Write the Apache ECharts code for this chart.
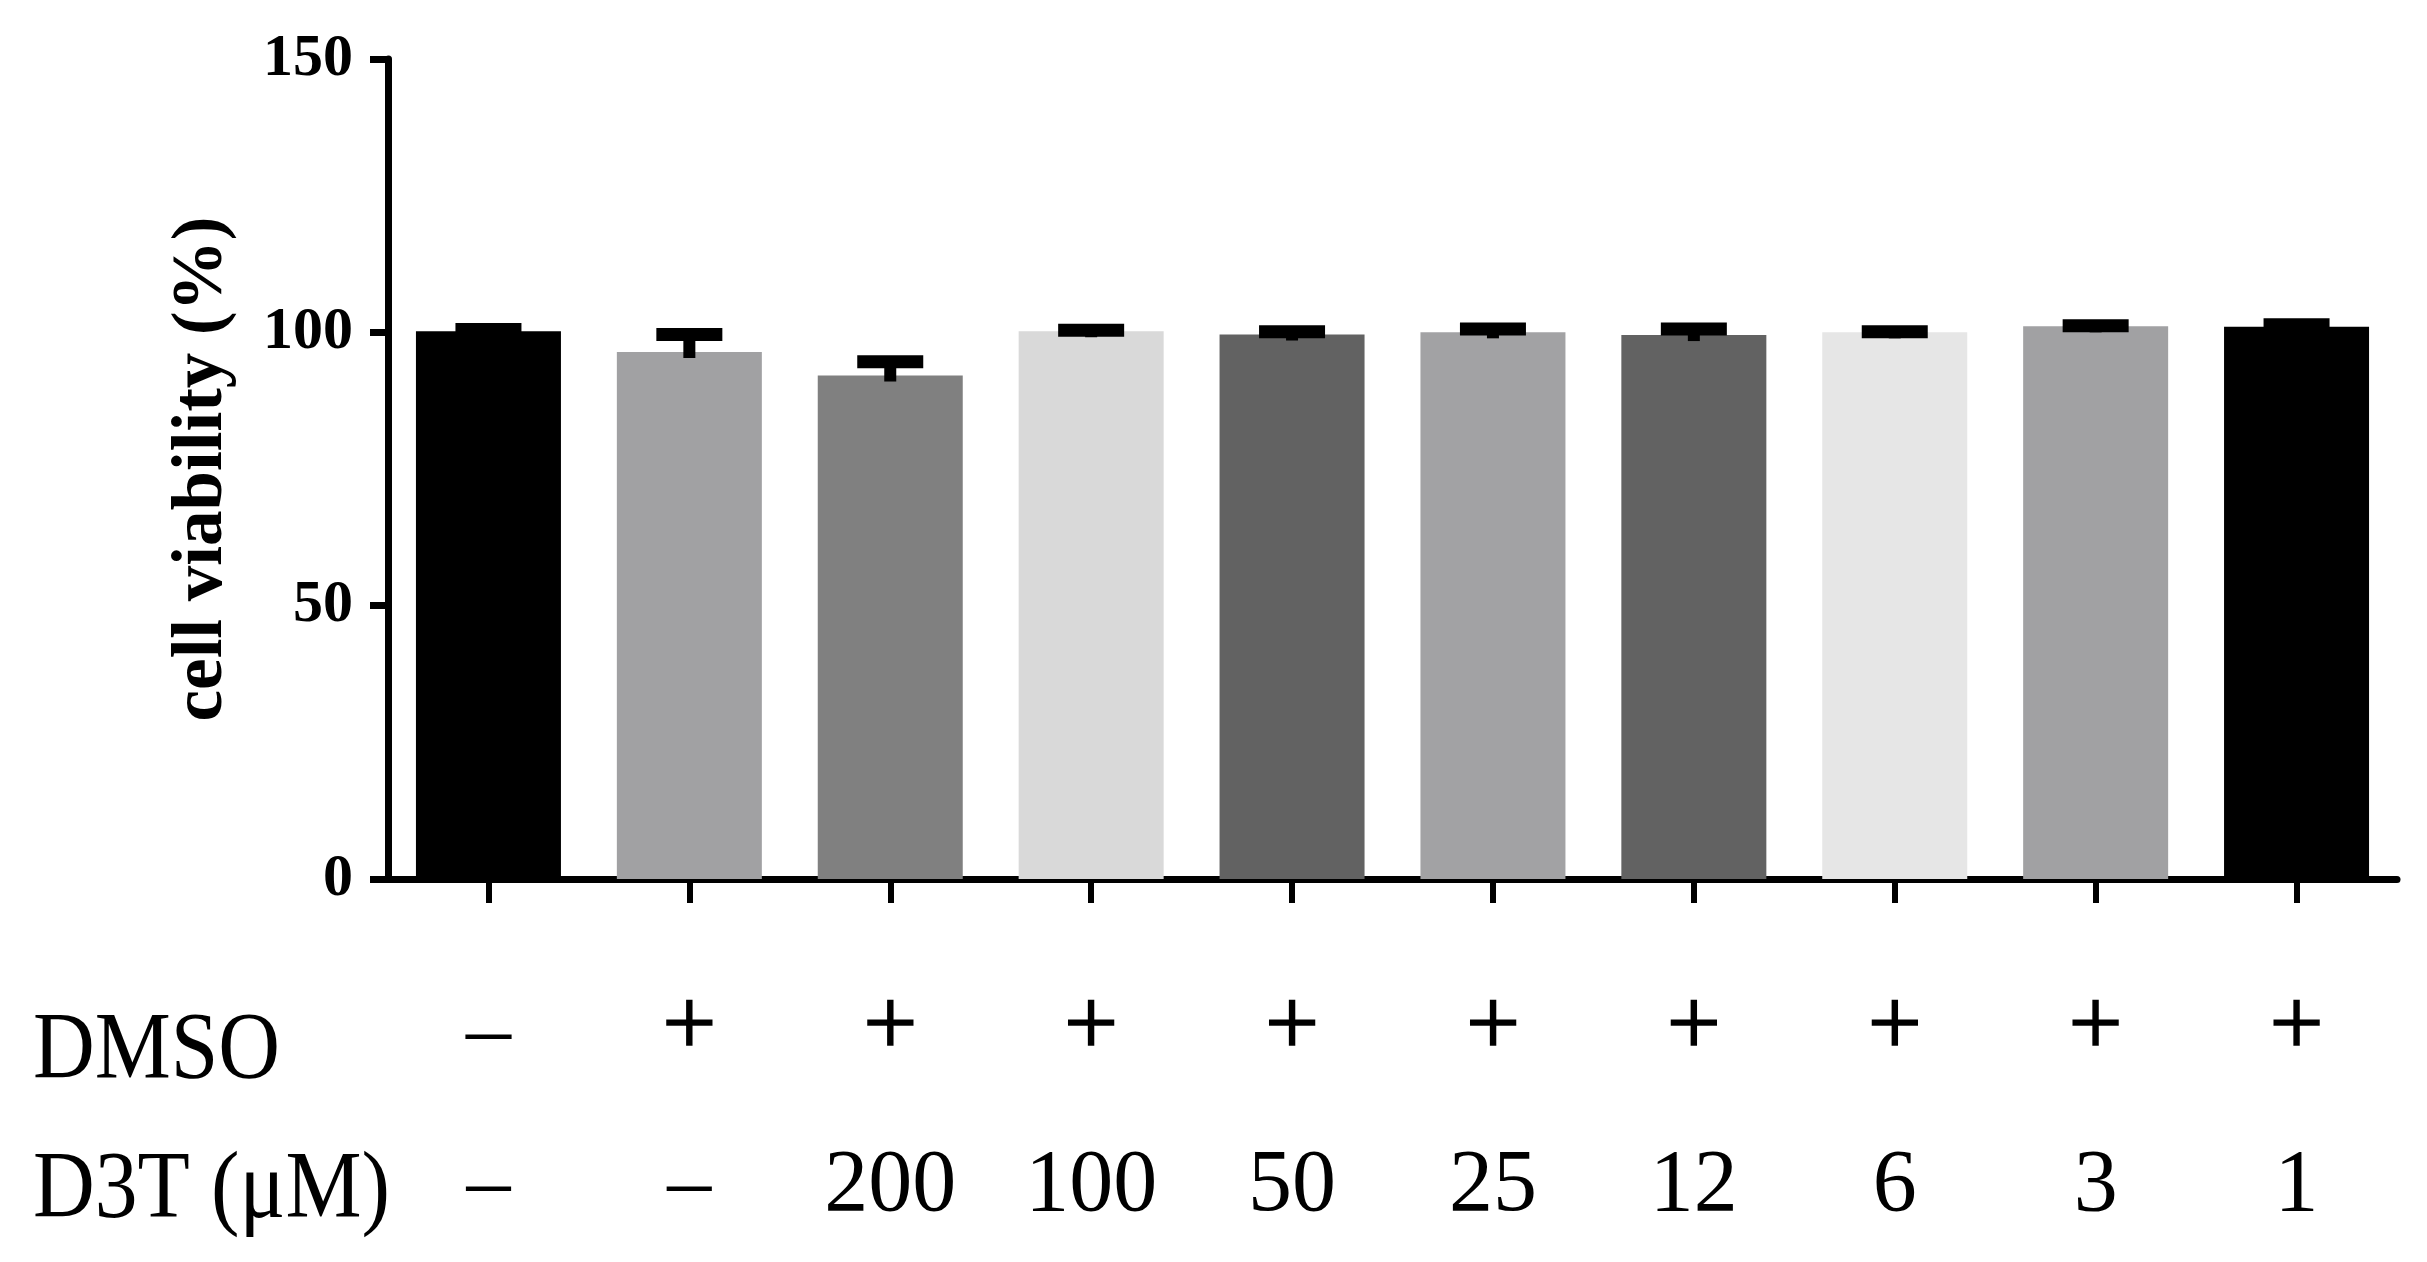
<!DOCTYPE html>
<html><head><meta charset="utf-8">
<script src="https://cdn.jsdelivr.net/npm/echarts/dist/echarts.min.js"></script>
<style>html,body{margin:0;padding:0;background:#fff}#c{width:2427px;height:1262px}</style>
</head><body><div id="c"></div>
<script>
// ---- data ----
const categories = ['control', 'DMSO', '200', '100', '50', '25', '12', '6', '3', '1'];
const dmsoRow = ['–', '+', '+', '+', '+', '+', '+', '+', '+', '+'];
const d3tRow = ['–', '–', '200', '100', '50', '25', '12', '6', '3', '1'];
const viability = [100.2, 96.4, 92.1, 100.2, 99.6, 100.0, 99.5, 100.0, 101.1, 101.0];
const sdValues = [0.3, 3.2, 2.5, 0.2, 0.5, 0.6, 1.1, 0.1, 0.1, 0.4];
const barColors = ['#000000', '#a1a1a3', '#808080', '#d9d9d9', '#626262', '#a2a2a4', '#626262', '#e6e6e6', '#a1a1a3', '#000000'];
const yMin = 0, yMax = 150, yStep = 50;
const yTitle = 'cell viability (%)';
const rowTitles = ['DMSO', 'D3T (μM)'];

const SERIF = '"Liberation Serif", "Times New Roman", serif';
const chart = echarts.init(document.getElementById('c'), null, {renderer: 'canvas'});

const option = {
  backgroundColor: '#fff',
  animation: false,
  grid: {left: 388, right: 30, top: 59, bottom: 383, containLabel: false},
  xAxis: [
    {
      type: 'category', data: categories, gridIndex: 0,
      axisLine: {show: true, lineStyle: {color: '#000', width: 7}},
      axisTick: {show: true, alignWithLabel: true, interval: 0, length: 24, lineStyle: {color: '#000', width: 6}},
      axisLabel: {show: false},
      splitLine: {show: false}
    },
    {
      type: 'category', data: categories, gridIndex: 0, position: 'bottom', offset: 102,
      axisLine: {show: false}, axisTick: {show: false}, splitLine: {show: false},
      axisLabel: {
        show: true, interval: 0, margin: 0,
        formatter: function (v, i) { return dmsoRow[i] === '+' ? '{p|+}' : '{d|' + dmsoRow[i] + '}'; },
        rich: {
          p: {fontFamily: SERIF, fontSize: 96, lineHeight: 96, color: '#000', textBorderColor: '#000', textBorderWidth: 1.6},
          d: {fontFamily: SERIF, fontSize: 90, lineHeight: 96, color: '#000', padding: [11, 0, 0, 0]}
        }
      }
    },
    {
      type: 'category', data: categories, gridIndex: 0, position: 'bottom', offset: 264,
      axisLine: {show: false}, axisTick: {show: false}, splitLine: {show: false},
      axisLabel: {
        show: true, interval: 0, margin: 0,
        formatter: function (v, i) { return d3tRow[i]; },
        fontFamily: SERIF, fontSize: 88, lineHeight: 88, color: '#000'
      }
    }
  ],
  yAxis: {
    type: 'value', min: yMin, max: yMax, interval: yStep,
    name: yTitle, nameLocation: 'middle', nameRotate: 90, nameGap: 150,
    nameTextStyle: {fontFamily: SERIF, fontWeight: 'bold', fontSize: 71, color: '#000'},
    axisLine: {show: true, lineStyle: {color: '#000', width: 7}},
    axisTick: {show: true, length: 18, lineStyle: {color: '#000', width: 7}},
    axisLabel: {margin: 35, fontFamily: SERIF, fontWeight: 'bold', fontSize: 60, color: '#000'},
    splitLine: {show: false}
  },
  series: [
    {
      type: 'bar', xAxisIndex: 0, barWidth: 145,
      data: viability.map(function (v, i) { return {value: v, itemStyle: {color: barColors[i]}}; }),
      z: 2
    },
    {
      type: 'custom', xAxisIndex: 0, z: 3,
      data: viability.map(function (v, i) { return [i, v, sdValues[i]]; }),
      encode: {x: 0, y: 1},
      renderItem: function (params, api) {
        const i = api.value(0), m = api.value(1), e = api.value(2);
        const base = api.coord([i, m]);
        const top = api.coord([i, m + e]);
        const half = 33;
        return {
          type: 'group',
          children: [
            {type: 'line', shape: {x1: top[0], y1: base[1] + 6, x2: top[0], y2: top[1]}, style: {stroke: '#000', lineWidth: 12}},
            {type: 'line', shape: {x1: top[0] - half, y1: top[1], x2: top[0] + half, y2: top[1]}, style: {stroke: '#000', lineWidth: 13}}
          ]
        };
      }
    }
  ],
  graphic: [
    {type: 'text', x: 33, y: 1053, scaleX: 0.9, style: {x: 0, y: 0, text: rowTitles[0], font: '95px ' + SERIF, fill: '#000', verticalAlign: 'middle', align: 'left'}},
    {type: 'text', x: 33, y: 1192, scaleX: 0.9, style: {x: 0, y: 0, text: rowTitles[1], font: '95px ' + SERIF, fill: '#000', verticalAlign: 'middle', align: 'left'}}
  ]
};
chart.setOption(option);
</script>
</body></html>
